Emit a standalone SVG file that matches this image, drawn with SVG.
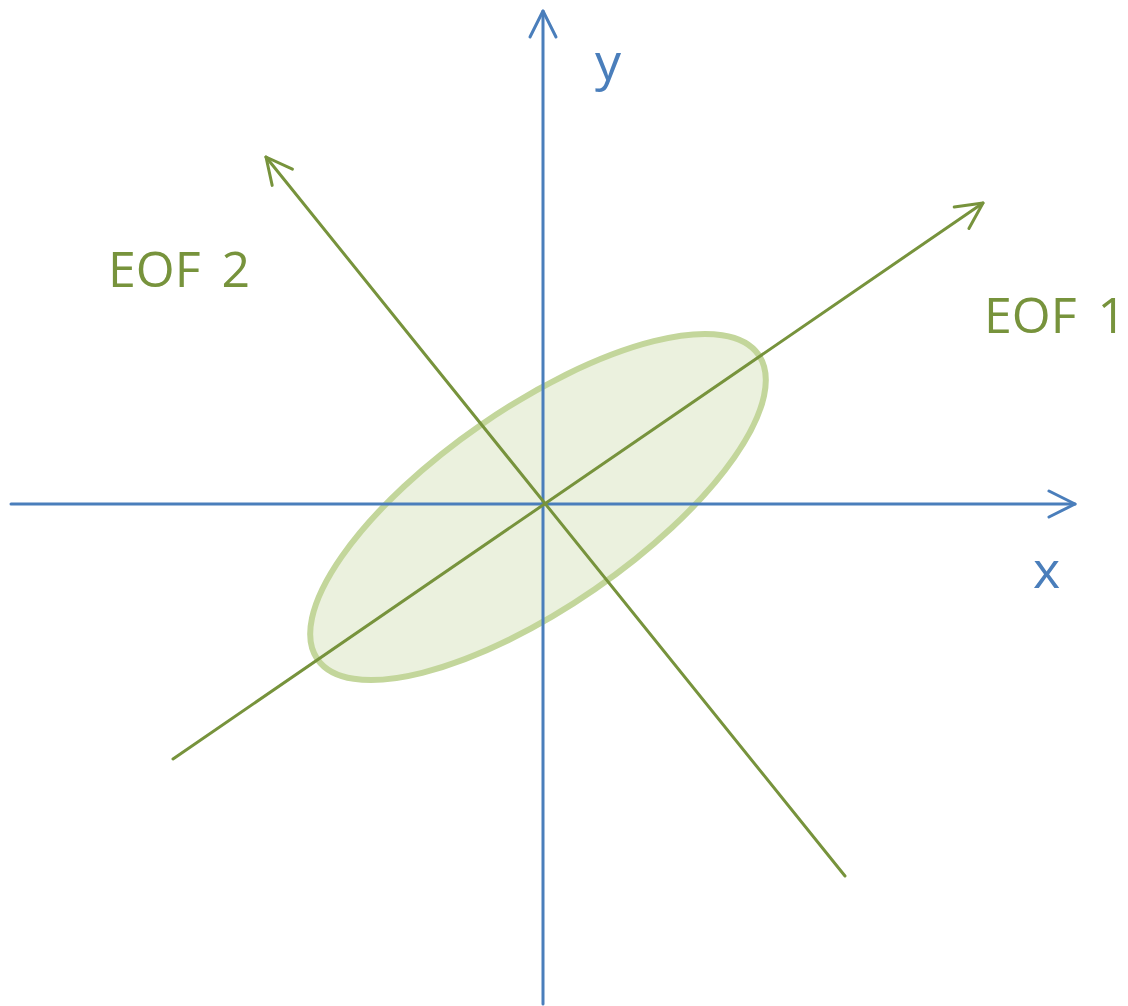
<svg xmlns="http://www.w3.org/2000/svg" width="1128" height="1006" viewBox="0 0 1128 1006">
<style>
.axis{stroke:#4a7ebb;stroke-width:3;fill:none;stroke-linecap:round}
.eof{stroke:#77933c;stroke-width:3;fill:none;stroke-linecap:round}
.lblB{fill:#4a7ebb;font-family:"Open Sans","Liberation Sans",sans-serif;font-size:52px}
.lblG{fill:#77933c;font-family:"Open Sans","Liberation Sans",sans-serif;font-size:50px;word-spacing:8px}
</style>
<defs>
<marker id="ahB" markerUnits="userSpaceOnUse" markerWidth="40" markerHeight="40" viewBox="-30 -20 40 40" refX="0" refY="0" orient="auto" overflow="visible">
<path d="M-26,-13 L0,0 L-26,13" fill="none" stroke="#4a7ebb" stroke-width="3" stroke-linecap="round" stroke-linejoin="round"/>
</marker>
<marker id="ahG" markerUnits="userSpaceOnUse" markerWidth="40" markerHeight="40" viewBox="-30 -20 40 40" refX="0" refY="0" orient="auto" overflow="visible">
<path d="M-26,-13 L0,0 L-26,13" fill="none" stroke="#77933c" stroke-width="3" stroke-linecap="round" stroke-linejoin="round"/>
</marker>
</defs>
<g id="ellipse">
<ellipse cx="538" cy="507" rx="268" ry="100" transform="rotate(-34.6 538 507)" fill="#ebf1de" stroke="#c3d69b" stroke-width="6"/>
</g>
<g id="connectors">
<line class="axis" x1="543" y1="1004" x2="543" y2="11" marker-end="url(#ahB)"/>
<line class="axis" x1="11" y1="504" x2="1075" y2="504" marker-end="url(#ahB)"/>
<line class="eof" x1="173" y1="759" x2="983" y2="203" marker-end="url(#ahG)"/>
<line class="eof" x1="845" y1="876" x2="266" y2="157" marker-end="url(#ahG)"/>
</g>
<g id="labels">
<text class="lblB" x="595" y="80">y</text>
<text class="lblB" x="1033" y="588">x</text>
<text class="lblG" x="984" y="333">EOF 1</text>
<text class="lblG" x="108" y="287">EOF 2</text>
</g>
</svg>
